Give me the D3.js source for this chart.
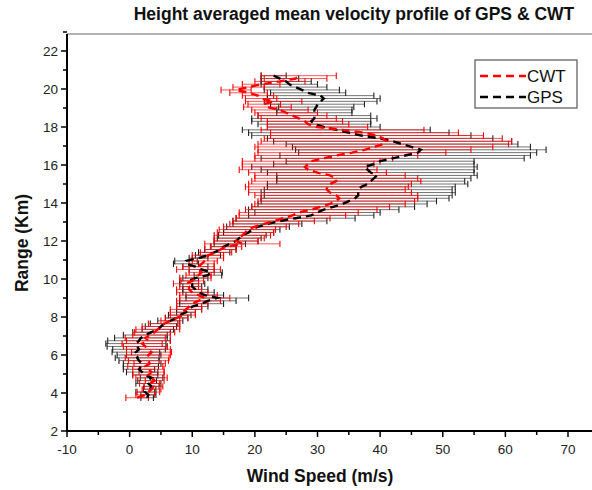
<!DOCTYPE html>
<html><head><meta charset="utf-8">
<script src="https://cdn.jsdelivr.net/npm/d3@7"></script>
<style>body{margin:0;background:#fff;}svg{display:block;font-family:"Liberation Sans",Arial,sans-serif;}</style>
</head><body><div id="chart"></div>
<script>
const heights = [3.75,3.90,4.05,4.20,4.35,4.50,4.65,4.80,4.95,5.10,
5.25,5.40,5.55,5.70,5.85,6.00,6.15,6.30,6.45,6.60,
6.75,6.90,7.05,7.20,7.35,7.50,7.65,7.80,7.95,8.10,
8.25,8.40,8.55,8.70,8.85,9.00,9.15,9.30,9.45,9.60,
9.75,9.90,10.05,10.20,10.35,10.50,10.65,10.80,10.95,11.10,
11.25,11.40,11.55,11.70,11.85,12.00,12.15,12.30,12.45,12.60,
12.75,12.90,13.05,13.20,13.35,13.50,13.65,13.80,13.95,14.10,
14.25,14.40,14.55,14.70,14.85,15.00,15.15,15.30,15.45,15.60,
15.75,15.90,16.05,16.20,16.35,16.50,16.65,16.80,16.95,17.10,
17.25,17.40,17.55,17.70,17.85,18.00,18.15,18.30,18.45,18.60,
18.75,18.90,19.05,19.20,19.35,19.50,19.65,19.80,19.95,20.10,
20.25,20.40,20.55,20.70];
const gpsMean = [2.8,3.0,2.5,3.2,3.5,3.0,2.8,3.5,2.5,2.0,
1.5,1.8,2.0,1.5,1.2,1.5,1.0,1.5,1.2,1.0,
1.5,1.8,2.5,3.5,4.5,5.0,5.5,6.5,7.5,8.0,
9.0,9.5,10.0,11.5,12.5,14.0,12.0,11.0,10.5,10.0,
10.0,9.5,10.5,12.5,13.0,11.5,10.5,9.0,9.0,11.0,
12.5,13.5,14.5,15.0,16.0,17.0,17.5,18.0,19.0,19.5,
20.5,22.0,24.0,26.5,29.0,30.0,31.0,32.5,34.0,35.0,
36.0,36.5,36.5,36.5,37.0,38.0,38.5,39.0,39.5,38.5,
38.0,37.5,39.0,40.0,42.0,44.0,46.0,46.5,45.0,43.5,
42.0,40.0,37.0,35.0,33.0,31.0,29.5,29.0,29.5,29.5,
29.5,29.5,29.8,30.0,30.5,31.0,30.5,28.5,27.5,26.5,
25.5,25.0,24.0,23.0];
const gpsErr = [1.0,1.2,1.5,1.0,1.2,2.0,1.5,1.8,2.0,2.5,
2.5,2.8,3.0,3.2,3.5,3.5,3.8,4.2,4.8,4.8,
5.0,4.2,3.5,3.0,2.5,2.5,2.2,2.0,1.8,1.8,
1.5,2.0,2.5,3.5,4.5,5.0,3.0,2.5,2.0,1.5,
2.0,1.5,2.0,2.2,1.8,2.0,2.0,2.0,1.8,1.5,
2.0,2.5,2.5,2.0,2.5,3.5,3.5,3.8,4.0,4.5,
5.0,5.5,7.5,9.5,10.0,10.0,12.0,13.0,13.5,14.0,
15.0,15.0,15.5,15.0,15.0,16.0,15.0,15.5,16.0,16.5,
17.0,18.0,16.0,15.0,21.0,20.0,19.0,20.0,19.0,18.5,
19.0,18.0,17.5,16.0,15.0,9.0,9.0,9.5,10.0,9.0,
6.0,6.0,6.0,7.5,9.0,9.0,8.5,6.0,6.0,5.0,
4.5,4.0,3.0,2.0];
const cwtMean = [1.2,2.5,3.0,3.5,3.8,3.2,4.0,3.5,3.0,3.5,
3.0,2.5,3.2,3.0,2.8,3.0,3.5,3.0,2.5,2.0,
3.0,2.5,3.5,4.0,4.5,5.0,5.5,6.5,7.5,8.5,
8.5,9.0,9.5,10.0,11.0,12.0,11.0,10.0,9.5,9.5,
9.0,10.0,10.5,11.0,11.5,11.0,11.0,11.5,12.0,12.5,
12.5,13.8,14.5,15.4,18.0,17.0,17.5,18.0,18.5,18.8,
20.0,21.5,23.0,24.5,26.0,27.0,29.0,30.5,32.0,33.0,
33.5,33.0,32.0,31.5,31.5,32.0,33.0,33.0,32.0,30.0,
28.5,28.0,28.5,29.0,31.0,33.0,35.5,37.5,39.0,40.5,
41.0,40.5,39.5,37.5,34.0,30.0,28.5,28.0,27.0,26.0,
25.0,24.0,22.0,21.5,23.0,21.0,20.5,19.0,17.0,19.0,
21.0,24.0,26.5,27.0];
const cwtErr = [1.8,1.5,1.8,1.5,1.5,1.6,1.5,2.5,2.5,2.0,
2.5,2.8,2.5,3.2,3.5,3.5,3.2,3.5,3.5,3.2,
3.5,3.2,3.0,3.2,3.5,3.0,2.5,1.5,1.8,2.0,
2.0,2.5,2.0,2.5,3.5,4.0,3.0,2.5,2.0,1.5,
2.0,1.8,2.5,2.0,2.0,3.5,2.5,2.0,2.0,2.5,
2.5,2.5,2.5,2.5,6.0,3.5,4.0,4.5,4.5,4.5,
5.0,5.5,6.5,7.5,8.5,9.5,10.5,11.0,12.0,12.5,
12.5,13.0,13.0,12.5,13.0,13.0,13.5,13.0,12.0,11.0,
11.0,10.0,10.5,11.0,11.0,13.0,15.0,17.0,19.0,20.0,
20.0,19.0,17.0,15.0,13.0,8.0,6.5,6.0,6.0,5.5,
5.0,4.5,3.8,2.6,4.5,2.5,2.5,3.0,2.4,2.5,
3.0,4.0,5.0,6.0];
const xTicks = [-10,0,10,20,30,40,50,60,70];
const yTicks = [2,4,6,8,10,12,14,16,18,20,22];
const seriesNames = ["CWT","GPS"];
const titleText = "Height averaged mean velocity profile of GPS & CWT";
const xTitle = "Wind Speed (m/s)";
const yTitle = "Range (Km)";

const W = 592, H = 490;
const svg = d3.select("#chart").append("svg").attr("width", W).attr("height", H);
const x = d3.scaleLinear().domain([-10, 70]).range([67, 568]);
const y = d3.scaleLinear().domain([2, 22]).range([431, 51]);
const frameTop = y(22.9);
const frameRight = x(78);

svg.append("line").attr("x1", x(-10)).attr("x2", frameRight).attr("y1", frameTop).attr("y2", frameTop)
  .attr("stroke", "#9a9a9a").attr("stroke-width", 1.5);

function errorBars(mean, err, lineColor, capColor, lineOpacity) {
  const g = svg.append("g");
  heights.forEach((h, i) => {
    const yy = y(h);
    const x1 = x(mean[i] - err[i]), x2 = x(mean[i] + err[i]);
    g.append("line").attr("x1", x1).attr("x2", x2).attr("y1", yy).attr("y2", yy)
      .attr("stroke", lineColor).attr("stroke-width", 1).attr("stroke-opacity", lineOpacity);
    [x1, x2].forEach(xc => g.append("line").attr("x1", xc).attr("x2", xc).attr("y1", yy - 3.2).attr("y2", yy + 3.2)
      .attr("stroke", capColor).attr("stroke-width", 1.1));
  });
}
errorBars(gpsMean, gpsErr, "#444", "#222", 0.75);
errorBars(cwtMean, cwtErr, "#ff1010", "#ff0000", 0.7);

const lineGen = (mean) => d3.line().x((h, i) => x(mean[i])).y(h => y(h))(heights);
svg.append("path").attr("d", lineGen(gpsMean)).attr("fill", "none").attr("stroke", "#000")
  .attr("stroke-width", 2.4).attr("stroke-dasharray", "8,5");
svg.append("path").attr("d", lineGen(cwtMean)).attr("fill", "none").attr("stroke", "#ff0000")
  .attr("stroke-width", 2.4).attr("stroke-dasharray", "8,5");

const xAxis = svg.append("g").attr("transform", `translate(0,${y(2)})`);
xAxis.append("line").attr("x1", x(-10) - 1).attr("x2", frameRight).attr("stroke", "#000").attr("stroke-width", 2);
d3.range(-10, 76, 5).forEach(v => {
  const major = v % 10 === 0;
  xAxis.append("line").attr("x1", x(v)).attr("x2", x(v)).attr("y1", 0).attr("y2", major ? 6 : 4)
    .attr("stroke", "#000").attr("stroke-width", 1.5);
});
xTicks.forEach(v => xAxis.append("text").attr("x", x(v)).attr("y", 23).attr("text-anchor", "middle")
  .attr("font-size", 13.5).attr("fill", "#222").text(v));

const yAxis = svg.append("g").attr("transform", `translate(${x(-10)},0)`);
yAxis.append("line").attr("y1", y(2) + 1).attr("y2", frameTop).attr("stroke", "#000").attr("stroke-width", 2);
d3.range(2, 23.5, 1).forEach(v => {
  const major = v % 2 === 0;
  yAxis.append("line").attr("x1", 0).attr("x2", major ? -6 : -4).attr("y1", y(v)).attr("y2", y(v))
    .attr("stroke", "#000").attr("stroke-width", 1.5);
});
yTicks.forEach(v => yAxis.append("text").attr("x", -9).attr("y", y(v) + 5).attr("text-anchor", "end")
  .attr("font-size", 13.5).attr("fill", "#222").text(v));

svg.append("text").attr("x", 354).attr("y", 20).attr("text-anchor", "middle").attr("font-weight", "bold")
  .attr("font-size", 17.5).attr("fill", "#111").text(titleText);
svg.append("text").attr("x", 320).attr("y", 482).attr("text-anchor", "middle").attr("font-weight", "bold")
  .attr("font-size", 17.5).attr("fill", "#111").text(xTitle);
svg.append("text").attr("transform", `translate(28,243) rotate(-90)`).attr("text-anchor", "middle")
  .attr("font-weight", "bold").attr("font-size", 17.5).attr("fill", "#111").text(yTitle);

const lg = svg.append("g");
lg.append("rect").attr("x", 475).attr("y", 60).attr("width", 102).attr("height", 48)
  .attr("fill", "#fff").attr("stroke", "#555").attr("stroke-width", 1.2);
const legColors = ["#ff0000", "#000"];
seriesNames.forEach((n, i) => {
  const yy = 76 + i * 21;
  lg.append("line").attr("x1", 480).attr("x2", 526).attr("y1", yy).attr("y2", yy)
    .attr("stroke", legColors[i]).attr("stroke-width", 2.4).attr("stroke-dasharray", "8,5");
  lg.append("text").attr("x", 527).attr("y", yy + 6).attr("font-size", 17).attr("fill", "#111").text(n);
});
</script></body></html>
